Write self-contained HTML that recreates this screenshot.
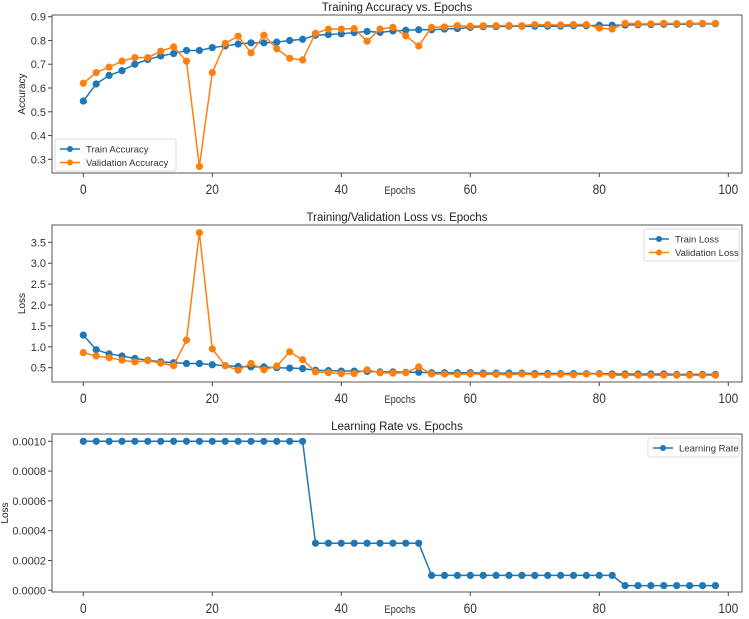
<!DOCTYPE html>
<html><head><meta charset="utf-8"><style>
body{margin:0;background:#fff;}
svg{display:block;font-family:"Liberation Sans","DejaVu Sans",sans-serif;}
</style></head><body>
<svg id="fig" width="749" height="619" viewBox="0 0 749 619"></svg>
<script>
const epochs = [];
for (let e = 0; e <= 98; e += 2) epochs.push(e);
const trainAcc = [0.545,0.617,0.653,0.673,0.70,0.72,0.735,0.745,0.758,0.758,0.77,0.777,0.785,0.79,0.79,0.793,0.80,0.805,0.822,0.825,0.828,0.833,0.838,0.834,0.84,0.843,0.845,0.845,0.848,0.85,0.855,0.858,0.858,0.86,0.86,0.86,0.86,0.86,0.862,0.862,0.864,0.864,0.865,0.866,0.867,0.868,0.868,0.869,0.87,0.87];
const valAcc = [0.62,0.665,0.688,0.713,0.728,0.728,0.755,0.773,0.713,0.27,0.665,0.788,0.818,0.748,0.822,0.765,0.725,0.718,0.83,0.848,0.848,0.85,0.797,0.848,0.855,0.819,0.777,0.855,0.857,0.862,0.86,0.862,0.862,0.863,0.862,0.867,0.866,0.865,0.867,0.867,0.852,0.848,0.872,0.87,0.87,0.872,0.871,0.872,0.872,0.872];
const trainLoss = [1.28,0.93,0.83,0.78,0.72,0.68,0.64,0.62,0.6,0.6,0.57,0.55,0.53,0.52,0.52,0.5,0.49,0.48,0.44,0.43,0.42,0.42,0.41,0.40,0.40,0.39,0.39,0.38,0.38,0.38,0.38,0.37,0.37,0.37,0.37,0.36,0.36,0.36,0.36,0.36,0.36,0.35,0.35,0.35,0.35,0.35,0.34,0.34,0.34,0.34];
const valLoss = [0.86,0.78,0.74,0.68,0.64,0.67,0.61,0.55,1.16,3.73,0.95,0.55,0.44,0.6,0.45,0.54,0.88,0.69,0.4,0.38,0.36,0.36,0.45,0.38,0.37,0.38,0.52,0.35,0.35,0.34,0.35,0.34,0.34,0.33,0.35,0.33,0.33,0.34,0.33,0.35,0.35,0.32,0.32,0.32,0.32,0.32,0.32,0.32,0.32,0.32];
const lr = [0.001,0.001,0.001,0.001,0.001,0.001,0.001,0.001,0.001,0.001,0.001,0.001,0.001,0.001,0.001,0.001,0.001,0.001,0.000316,0.000316,0.000316,0.000316,0.000316,0.000316,0.000316,0.000316,0.000316,0.0001,0.0001,0.0001,0.0001,0.0001,0.0001,0.0001,0.0001,0.0001,0.0001,0.0001,0.0001,0.0001,0.0001,0.0001,0.0000316,0.0000316,0.0000316,0.0000316,0.0000316,0.0000316,0.0000316,0.0000316];
const xTicks = [0,20,40,60,80,100];
const accTicks = [0.3,0.4,0.5,0.6,0.7,0.8,0.9];
const accTickLabels = ["0.3","0.4","0.5","0.6","0.7","0.8","0.9"];
const lossTicks = [0.5,1.0,1.5,2.0,2.5,3.0,3.5];
const lossTickLabels = ["0.5","1.0","1.5","2.0","2.5","3.0","3.5"];
const lrTicks = [0,0.0002,0.0004,0.0006,0.0008,0.001];
const lrTickLabels = ["0.0000","0.0002","0.0004","0.0006","0.0008","0.0010"];

const NS = "http://www.w3.org/2000/svg";
const svg = document.getElementById('fig');
function mk(tag, attrs, parent) {
  const el = document.createElementNS(NS, tag);
  for (const k in attrs) el.setAttribute(k, attrs[k]);
  (parent || svg).appendChild(el);
  return el;
}
const BLUE = '#1f77b4', ORANGE = '#ff7f0e';
const xScale = e => 83.3 + e * 6.45;

function panel(name, top, bottom, yMap, yTicks, yLabels, title, ylabel, series, legend) {
  const g = mk('g', {});
  
  
  const t = mk('text', {x: 397, y: top - 4, 'text-anchor': 'middle', 'font-size': 11.5, fill: '#222'}, g);
  t.textContent = title;
  
  
  const yl = mk('text', {transform: `translate(${name==='lr'?8:25},${(top+bottom)/2}) rotate(-90)`, 'text-anchor': 'middle', 'font-size': 10, fill: '#222'}, g);
  yl.textContent = ylabel;
  
  
  yTicks.forEach((v, i) => {
    const y = yMap(v);
    mk('line', {x1: 48, x2: 52, y1: y, y2: y, stroke: '#444'}, g);
    const tl = mk('text', {x: 46, y: y + 4, 'text-anchor': 'end', 'font-size': 11, fill: '#333'}, g);
    tl.textContent = yLabels[i];
    
    
  });
  xTicks.forEach(v => {
    const x = xScale(v);
    mk('line', {x1: x, x2: x, y1: bottom, y2: bottom + 4, stroke: '#444'}, g);
    const tl = mk('text', {x: x, y: bottom + 21, 'text-anchor': 'middle', 'font-size': 14, fill: '#333', transform: `translate(${x},0) scale(0.85,1) translate(${-x},0)`}, g);
    tl.textContent = v;
    
    
  });
  const xl = mk('text', {x: 400, y: bottom + 21, 'text-anchor': 'middle', 'font-size': 11, fill: '#333', transform: `translate(400,0) scale(0.85,1) translate(-400,0)`}, g);
  xl.textContent = 'Epochs';
  
  
  series.forEach(s => {
    const pts = epochs.map((e, i) => xScale(e) + ',' + yMap(s.data[i])).join(' ');
    const pl = mk('polyline', {points: pts, fill: 'none', stroke: s.color, 'stroke-width': 1.5}, g);
    
    
    epochs.forEach((e, i) => {
      const c = mk('circle', {cx: xScale(e), cy: yMap(s.data[i]), r: 3.6, fill: s.color}, g);
      
      
    });
  });
  mk('rect', {x: 52, y: top, width: 690, height: bottom - top, fill: 'none', stroke: '#555', 'stroke-width': 1}, g);
  const lg = mk('g', {}, g);
  
  
  mk('rect', {x: legend.x, y: legend.y, width: legend.w, height: 13 * series.length + 6, fill: '#fff', stroke: '#ddd', rx: 2}, lg);
  series.forEach((s, i) => {
    const y = legend.y + 10 + i * 13.5;
    mk('line', {x1: legend.x + 5, x2: legend.x + 25, y1: y, y2: y, stroke: s.color, 'stroke-width': 1.5}, lg);
    mk('circle', {cx: legend.x + 15, cy: y, r: 3, fill: s.color}, lg);
    const lt = mk('text', {x: legend.x + 31, y: y + 3.5, 'font-size': 9.5, fill: '#333'}, lg);
    lt.textContent = s.label;
    
    
  });
}

panel('accuracy', 15, 173, v => 16.7 + (0.9 - v) * 237.7, accTicks, accTickLabels,
  'Training Accuracy vs. Epochs', 'Accuracy',
  [{id: 'train-accuracy', data: trainAcc, color: BLUE, label: 'Train Accuracy'},
   {id: 'validation-accuracy', data: valAcc, color: ORANGE, label: 'Validation Accuracy'}],
  {x: 55, y: 139, w: 121});
panel('loss', 225, 382, v => 367.7 - (v - 0.5) * 41.8, lossTicks, lossTickLabels,
  'Training/Validation Loss vs. Epochs', 'Loss',
  [{id: 'train-loss', data: trainLoss, color: BLUE, label: 'Train Loss'},
   {id: 'validation-loss', data: valLoss, color: ORANGE, label: 'Validation Loss'}],
  {x: 644, y: 229, w: 95});
panel('lr', 434, 592, v => 590.3 - v * 149000, lrTicks, lrTickLabels,
  'Learning Rate vs. Epochs', 'Loss',
  [{id: 'learning-rate', data: lr, color: BLUE, label: 'Learning Rate'}],
  {x: 648, y: 438, w: 91});
</script>
</body></html>
